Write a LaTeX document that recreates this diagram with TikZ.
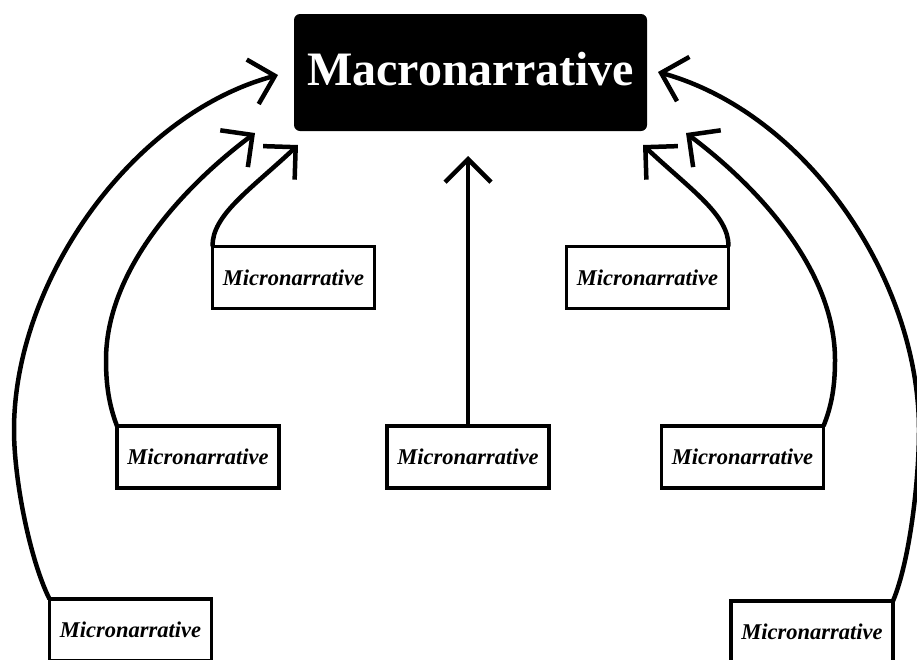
\documentclass[tikz,border=0pt]{standalone}
\usepackage{fontspec}
\setmainfont{Liberation Serif}
\usetikzlibrary{arrows.meta}

\begin{document}
\begin{tikzpicture}[x=1pt, y=-1pt,
  micro/.style={draw, line width=3.5pt, outer sep=0pt, inner sep=0pt,
    minimum width=162pt, minimum height=62pt,
    font=\fontsize{22.5}{24}\selectfont\bfseries\itshape},
  macro/.style={fill=black, rounded corners=6pt, inner sep=0pt,
    minimum width=353pt, minimum height=117pt, text=white, text depth=8pt,
    font=\fontsize{48}{50}\selectfont\bfseries},
  link/.style={line width=4.5pt, -{Straight Barb[length=23pt, width=46pt]}}]
  \useasboundingbox (0,0) rectangle (917,659);

  \node[macro] (macro) at (470.5,72.5) {Macronarrative};

  \node[micro] (upleft) at (293.5,277.5) {Micronarrative};
  \node[micro] (midleft) at (198,457) {Micronarrative};
  \node[micro] (lowleft) at (130.5,630) {Micronarrative};
  \node[micro] (center) at (468,457) {Micronarrative};
  \node[micro] (upright) at (647.5,277.5) {Micronarrative};
  \node[micro] (midright) at (742.5,457) {Micronarrative};
  \node[micro] (lowright) at (812,632) {Micronarrative};

  \coordinate (tipUL) at (298,145);
  \coordinate (tipML) at (255,133);
  \coordinate (tipLL) at (278,75);
  \coordinate (tipC) at (468,156);
  \coordinate (tipUR) at (643,145);
  \coordinate (tipMR) at (686,133);
  \coordinate (tipLR) at (658,72);

  \draw[link] (center.north) -- (tipC);

  \draw[link] (upleft.north west) .. controls (212,215) and (250,190) .. (tipUL);
  \draw[link] (midleft.north west) .. controls (109,405) and (106,385) .. (106,360)
    .. controls (106,270) and (183,187) .. (tipML);
  \draw[link] (lowleft.north west) .. controls (30,560) and (14,480) .. (14,430)
    .. controls (14,280) and (133,114) .. (tipLL);

  \draw[link] (upright.north east) .. controls (729,215) and (691,190) .. (tipUR);
  \draw[link] (midright.north east) .. controls (832,405) and (835,385) .. (835,360)
    .. controls (835,270) and (758,187) .. (tipMR);
  \draw[link] (lowright.north east) .. controls (910,560) and (919,480) .. (919,430)
    .. controls (919,280) and (808,114) .. (tipLR);
\end{tikzpicture}
\end{document}
